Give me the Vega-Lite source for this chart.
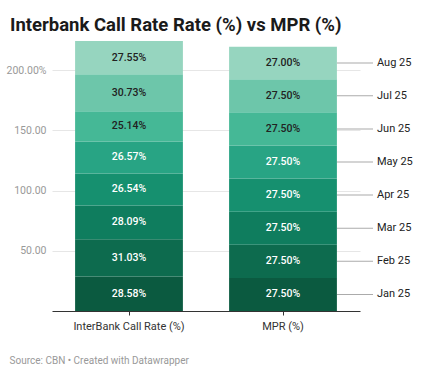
{
  "$schema": "https://vega.github.io/schema/vega-lite/v6.json",
  "autosize": "none",
  "width": 308,
  "height": 270,
  "padding": {"left": 52, "top": 41, "right": 65, "bottom": 63},
  "background": "white",
  "config": {"view": {"stroke": null}, "font": "Roboto"},
  "title": {
    "text": "Interbank Call Rate Rate (%) vs MPR (%)",
    "anchor": "start",
    "frame": "group",
    "dx": -42,
    "dy": 22,
    "offset": 14,
    "baseline": "alphabetic",
    "font": "Roboto",
    "fontSize": 18.5,
    "fontWeight": "bold",
    "color": "#1a1a1a"
  },
  "data": {
    "values": [
      {"cat": "InterBank Call Rate (%)", "month": "Jan 25", "m": 1, "v": 28.58},
      {"cat": "InterBank Call Rate (%)", "month": "Feb 25", "m": 2, "v": 31.03},
      {"cat": "InterBank Call Rate (%)", "month": "Mar 25", "m": 3, "v": 28.09},
      {"cat": "InterBank Call Rate (%)", "month": "Apr 25", "m": 4, "v": 26.54},
      {"cat": "InterBank Call Rate (%)", "month": "May 25", "m": 5, "v": 26.57},
      {"cat": "InterBank Call Rate (%)", "month": "Jun 25", "m": 6, "v": 25.14},
      {"cat": "InterBank Call Rate (%)", "month": "Jul 25", "m": 7, "v": 30.73},
      {"cat": "InterBank Call Rate (%)", "month": "Aug 25", "m": 8, "v": 27.55},
      {"cat": "MPR (%)", "month": "Jan 25", "m": 1, "v": 27.5},
      {"cat": "MPR (%)", "month": "Feb 25", "m": 2, "v": 27.5},
      {"cat": "MPR (%)", "month": "Mar 25", "m": 3, "v": 27.5},
      {"cat": "MPR (%)", "month": "Apr 25", "m": 4, "v": 27.5},
      {"cat": "MPR (%)", "month": "May 25", "m": 5, "v": 27.5},
      {"cat": "MPR (%)", "month": "Jun 25", "m": 6, "v": 27.5},
      {"cat": "MPR (%)", "month": "Jul 25", "m": 7, "v": 27.5},
      {"cat": "MPR (%)", "month": "Aug 25", "m": 8, "v": 27.0}
    ]
  },
  "encoding": {
    "x": {
      "field": "cat",
      "type": "nominal",
      "sort": null,
      "scale": {"paddingInner": 0.3, "paddingOuter": 0.15},
      "axis": {
        "labelAngle": 0,
        "labelFontSize": 11,
        "labelColor": "#333",
        "labelPadding": 5,
        "domainColor": "#333",
        "tickColor": "#333",
        "tickSize": 4,
        "title": "Source: CBN • Created with Datawrapper",
        "titleAnchor": "start",
        "titleAlign": "left",
        "titleX": -43,
        "titleY": 52,
        "titleBaseline": "alphabetic",
        "titleFontSize": 10,
        "titleFontWeight": "normal",
        "titleColor": "#999"
      }
    },
    "order": {"field": "m", "type": "quantitative"}
  },
  "layer": [
    {
      "mark": {"type": "bar"},
      "encoding": {
        "y": {
          "field": "v",
          "type": "quantitative",
          "stack": "zero",
          "scale": {"domain": [0, 224.23], "nice": false},
          "axis": {
            "values": [50, 100, 150, 200],
            "labelExpr": "datum.value == 200 ? '200.00%' : format(datum.value, '.2f')",
            "labelFontSize": 10.5,
            "labelColor": "#999",
            "labelPadding": 6,
            "ticks": false,
            "domain": false,
            "gridColor": "#e6e6e6",
            "title": null
          }
        },
        "color": {
          "field": "month",
          "type": "nominal",
          "legend": null,
          "scale": {
            "domain": ["Jan 25", "Feb 25", "Mar 25", "Apr 25", "May 25", "Jun 25", "Jul 25", "Aug 25"],
            "range": ["#0b5a40", "#0d6b4e", "#0f7d5e", "#16906f", "#28a484", "#45b896", "#6dc6aa", "#96d5bf"]
          }
        }
      }
    },
    {
      "mark": {
        "type": "text",
        "fontSize": 10.5,
        "fontWeight": 500,
        "text": {"expr": "format(datum.v, '.2f') + '%'"}
      },
      "encoding": {
        "y": {"field": "v", "type": "quantitative", "stack": "zero", "bandPosition": 0.5},
        "color": {
          "condition": {"test": "datum.m <= 5", "value": "#ffffff"},
          "value": "#222222"
        }
      }
    },
    {
      "transform": [{"filter": "datum.cat == 'MPR (%)'"}],
      "mark": {"type": "tick", "xOffset": 72, "size": 36, "thickness": 1, "color": "#888"},
      "encoding": {
        "y": {"field": "v", "type": "quantitative", "stack": "zero", "bandPosition": 0.5}
      }
    },
    {
      "transform": [{"filter": "datum.cat == 'MPR (%)'"}],
      "mark": {"type": "text", "align": "left", "dx": 94, "fontSize": 11, "color": "#222"},
      "encoding": {
        "y": {"field": "v", "type": "quantitative", "stack": "zero", "bandPosition": 0.5},
        "text": {"field": "month"}
      }
    }
  ]
}
